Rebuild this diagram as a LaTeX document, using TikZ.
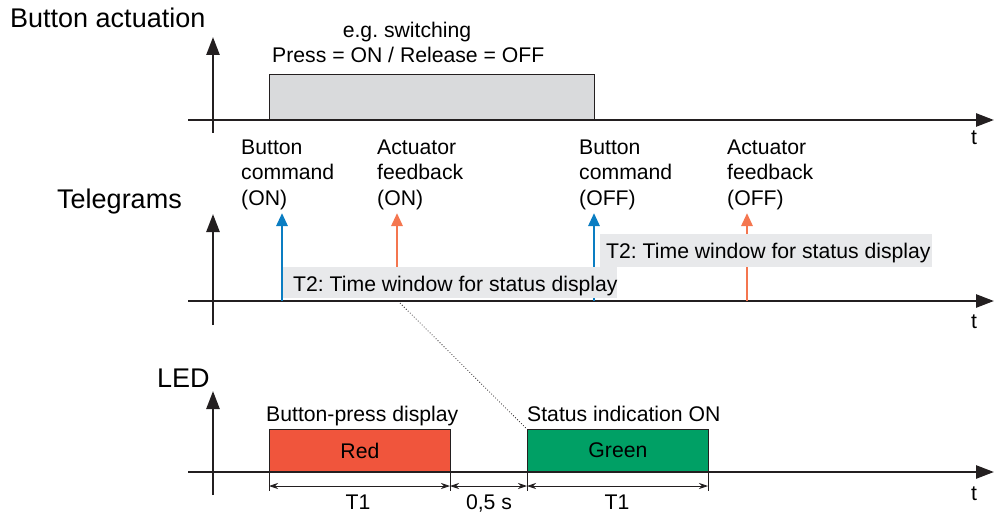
\documentclass[tikz,border=0pt]{standalone}
\usepackage{fontspec}
\setmainfont{Liberation Sans}
\usetikzlibrary{arrows.meta}
\definecolor{axisc}{HTML}{231F20}
\definecolor{bluec}{HTML}{0A7DC2}
\definecolor{orangec}{HTML}{F4764F}
\definecolor{redc}{HTML}{F0553C}
\definecolor{greenc}{HTML}{00A065}
\definecolor{pressc}{HTML}{D9DADC}
\definecolor{winc}{HTML}{E8E9EB}
\frenchspacing
\begin{document}
\begin{tikzpicture}[x=1pt,y=-1pt,
  txt/.style={inner sep=0pt, anchor=base west, font=\fontsize{21.2}{25.5}\selectfont, text=black},
  head/.style={inner sep=0pt, anchor=base west, font=\fontsize{27}{30}\selectfont, text=black},
  axisline/.style={line width=2.6pt, draw=axisc, -{Triangle[length=18pt,width=13pt]}},
  tele/.style={line width=2.8pt, -{Triangle[length=13pt,width=11pt]}},
  pressbox/.style={draw=axisc, line width=0.8pt, fill=pressc, inner sep=0pt},
  winbox/.style={fill=winc, inner sep=0pt, anchor=north west},
  ledbox/.style={draw=axisc, line width=0.8pt, inner sep=0pt, anchor=south west,
     minimum width=181pt, minimum height=42pt, font=\fontsize{21.2}{25}\selectfont},
  dim/.style={line width=0.8pt, draw=axisc, {Stealth[length=9pt,width=6pt]}-{Stealth[length=9pt,width=6pt]}},
  tick/.style={line width=0.8pt, draw=axisc}
]
\useasboundingbox (0,0) rectangle (995,513);

% ---------- Button actuation ----------
\node[head] (hba) at (10,28) {Button actuation};
\coordinate (a1v0) at (213,133); \coordinate (a1v1) at (213,37);
\coordinate (a1h0) at (188,120); \coordinate (a1h1) at (994,120);
\node[pressbox, anchor=south west, minimum width=325pt, minimum height=45pt] (press) at (269,120) {};
\draw[axisline] (a1v0) -- (a1v1);
\draw[axisline] (a1h0) -- (a1h1);
\node[txt, anchor=base] (eg) at (407,38) {e.g. switching};
\node[txt] (pr) at (272,63) {Press = ON / Release = OFF};
\node[txt, anchor=base] (t1) at (974,145) {t};

\node[txt, align=left] (bcon) at (241,205) {Button\\command\\(ON)};
\node[txt, align=left] (afon) at (377,205) {Actuator\\feedback\\(ON)};
\node[txt, align=left] (bcoff) at (579,205) {Button\\command\\(OFF)};
\node[txt, align=left] (afoff) at (727,205) {Actuator\\feedback\\(OFF)};

% ---------- Telegrams ----------
\node[head] (htel) at (57,208) {Telegrams};
\coordinate (a2v0) at (213,325); \coordinate (a2v1) at (213,214);
\coordinate (a2h0) at (188,301); \coordinate (a2h1) at (994,301);
\draw[axisline] (a2v0) -- (a2v1);
\draw[axisline] (a2h0) -- (a2h1);
\node[txt, anchor=base] (t2) at (974,328) {t};

\coordinate (b1s) at (282,301); \coordinate (b1e) at (282,213);
\coordinate (o1s) at (397,267); \coordinate (o1e) at (397,213);
\coordinate (b2s) at (594,301); \coordinate (b2e) at (594,213);
\coordinate (o2s) at (747,301); \coordinate (o2e) at (747,213);
\draw[tele, draw=bluec] (b1s) -- (b1e);
\draw[tele, draw=orangec] (o1s) -- (o1e);
\draw[tele, draw=bluec] (b2s) -- (b2e);
\draw[tele, draw=orangec] (o2s) -- (o2e);

\node[winbox, minimum width=334pt, minimum height=31pt] (win1) at (283,267) {};
\node[txt] (win1t) at (293,291) {T2: Time window for status display};
\node[winbox, minimum width=332pt, minimum height=33pt] (win2) at (600,234) {};
\node[txt] (win2t) at (606,258) {T2: Time window for status display};

% ---------- LED ----------
\node[head] (hled) at (157,387) {LED};
\coordinate (a3v0) at (213,495); \coordinate (a3v1) at (213,391);
\coordinate (a3h0) at (188,472); \coordinate (a3h1) at (994,472);
\node[ledbox, fill=redc] (red) at (269,472) {Red};
\node[ledbox, fill=greenc] (green) at (527,472) {Green};
\draw[axisline] (a3v0) -- (a3v1);
\draw[axisline] (a3h0) -- (a3h1);
\node[txt, anchor=base] (t3) at (974,500) {t};
\node[txt] (bpd) at (266,421) {Button-press display};
\node[txt] (sio) at (527,421) {Status indication ON};

\coordinate (dl0) at (400,303);
\draw[dotted, line width=0.8pt, draw=axisc] (dl0) -- (green.north west);

\foreach \n/\x in {k1/269,k2/450,k3/527,k4/708}{
  \coordinate (\n t) at (\x,472);
  \coordinate (\n b) at (\x,491);
  \coordinate (\n) at (\x,486);
  \draw[tick] (\n t) -- (\n b);
}
\draw[dim] (k1) -- (k2);
\draw[dim] (k2) -- (k3);
\draw[dim] (k3) -- (k4);
\node[txt, anchor=base] (T1a) at (358,509) {T1};
\node[txt, anchor=base] (half) at (489,509) {0,5 s};
\node[txt, anchor=base] (T1b) at (617,509) {T1};
\end{tikzpicture}
\end{document}
